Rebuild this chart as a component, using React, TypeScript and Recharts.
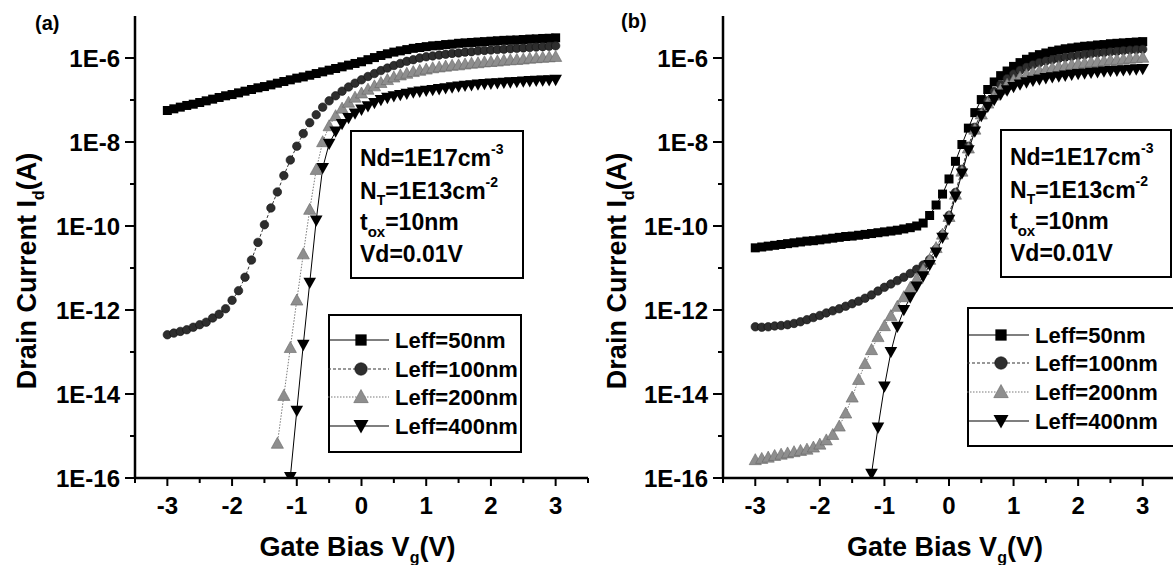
import React from 'react';
import { LineChart, Line, XAxis, YAxis, Legend, Label } from 'recharts';

// Gate bias grid (V)
const VG = [-3.0,-2.9,-2.8,-2.7,-2.6,-2.5,-2.4,-2.3,-2.2,-2.1,-2.0,-1.9,-1.8,-1.7,-1.6,-1.5,-1.4,-1.3,-1.2,-1.1,-1.0,-0.9,-0.8,-0.7,-0.6,-0.5,-0.4,-0.3,-0.2,-0.1,0.0,0.1,0.2,0.3,0.4,0.5,0.6,0.7,0.8,0.9,1.0,1.1,1.2,1.3,1.4,1.5,1.6,1.7,1.8,1.9,2.0,2.1,2.2,2.3,2.4,2.5,2.6,2.7,2.8,2.9,3.0];

// log10(Id [A]); short series end at Vg = 3 V
const A_L50 = [-7.25,-7.21,-7.17,-7.13,-7.10,-7.06,-7.02,-6.98,-6.94,-6.90,-6.87,-6.83,-6.79,-6.75,-6.71,-6.68,-6.64,-6.60,-6.56,-6.52,-6.48,-6.45,-6.41,-6.37,-6.33,-6.29,-6.25,-6.21,-6.17,-6.13,-6.09,-6.04,-5.99,-5.94,-5.90,-5.86,-5.83,-5.80,-5.77,-5.75,-5.73,-5.71,-5.70,-5.68,-5.67,-5.65,-5.64,-5.63,-5.62,-5.61,-5.60,-5.59,-5.58,-5.575,-5.57,-5.56,-5.55,-5.545,-5.535,-5.53,-5.52];
const A_L100 = [-12.59,-12.55,-12.51,-12.47,-12.41,-12.35,-12.29,-12.19,-12.10,-11.97,-11.77,-11.54,-11.22,-10.81,-10.39,-9.97,-9.57,-9.19,-8.80,-8.43,-8.10,-7.80,-7.54,-7.35,-7.17,-7.02,-6.90,-6.79,-6.69,-6.60,-6.52,-6.44,-6.37,-6.30,-6.24,-6.18,-6.13,-6.08,-6.04,-6.00,-5.97,-5.95,-5.93,-5.91,-5.89,-5.88,-5.86,-5.85,-5.83,-5.82,-5.81,-5.80,-5.79,-5.78,-5.77,-5.76,-5.75,-5.74,-5.73,-5.72,-5.71];
const A_L200 = [-15.18,-14.04,-12.90,-11.77,-10.67,-9.61,-8.66,-8.00,-7.62,-7.38,-7.20,-7.06,-6.94,-6.84,-6.75,-6.67,-6.59,-6.52,-6.46,-6.41,-6.37,-6.33,-6.30,-6.27,-6.24,-6.22,-6.20,-6.18,-6.17,-6.15,-6.13,-6.12,-6.10,-6.09,-6.08,-6.06,-6.05,-6.04,-6.03,-6.01,-6.00,-5.99,-5.98,-5.97];
const A_L400 = [-15.98,-14.40,-12.83,-11.35,-9.87,-8.62,-8.04,-7.75,-7.57,-7.43,-7.32,-7.23,-7.15,-7.07,-7.00,-6.95,-6.91,-6.88,-6.85,-6.82,-6.80,-6.78,-6.76,-6.74,-6.72,-6.70,-6.68,-6.66,-6.65,-6.63,-6.62,-6.61,-6.60,-6.59,-6.58,-6.57,-6.56,-6.55,-6.54,-6.535,-6.53,-6.52];

const B_L50 = [-10.52,-10.50,-10.48,-10.46,-10.44,-10.42,-10.40,-10.38,-10.36,-10.35,-10.33,-10.31,-10.29,-10.27,-10.25,-10.24,-10.22,-10.20,-10.18,-10.16,-10.14,-10.12,-10.10,-10.07,-10.04,-10.00,-9.93,-9.75,-9.50,-9.24,-8.88,-8.46,-8.06,-7.67,-7.30,-6.99,-6.75,-6.57,-6.42,-6.31,-6.20,-6.11,-6.03,-5.97,-5.92,-5.88,-5.84,-5.81,-5.78,-5.76,-5.74,-5.72,-5.71,-5.69,-5.68,-5.66,-5.65,-5.64,-5.63,-5.62,-5.61];
const B_L100 = [-12.40,-12.41,-12.40,-12.38,-12.37,-12.35,-12.32,-12.28,-12.23,-12.18,-12.13,-12.07,-12.02,-11.97,-11.91,-11.85,-11.79,-11.72,-11.64,-11.55,-11.46,-11.38,-11.30,-11.22,-11.13,-11.03,-10.93,-10.80,-10.55,-10.20,-9.75,-9.20,-8.65,-8.10,-7.65,-7.30,-7.02,-6.80,-6.63,-6.49,-6.38,-6.29,-6.22,-6.16,-6.11,-6.07,-6.04,-6.01,-5.98,-5.96,-5.94,-5.92,-5.90,-5.88,-5.87,-5.85,-5.84,-5.82,-5.81,-5.80,-5.79];
const B_L200 = [-15.57,-15.54,-15.51,-15.47,-15.44,-15.41,-15.38,-15.35,-15.32,-15.27,-15.20,-15.10,-14.97,-14.77,-14.46,-14.08,-13.66,-13.28,-12.95,-12.64,-12.38,-12.14,-11.92,-11.69,-11.47,-11.26,-11.04,-10.80,-10.52,-10.20,-9.78,-9.25,-8.70,-8.15,-7.70,-7.34,-7.08,-6.89,-6.75,-6.63,-6.53,-6.46,-6.40,-6.35,-6.31,-6.27,-6.24,-6.21,-6.19,-6.16,-6.14,-6.12,-6.10,-6.09,-6.07,-6.05,-6.04,-6.03,-6.01,-6.00,-5.99];
const B_L400 = [-15.90,-14.80,-13.82,-13.00,-12.40,-12.00,-11.70,-11.44,-11.20,-10.93,-10.63,-10.28,-9.85,-9.30,-8.75,-8.20,-7.75,-7.38,-7.16,-7.00,-6.87,-6.77,-6.69,-6.63,-6.58,-6.54,-6.51,-6.48,-6.46,-6.44,-6.42,-6.40,-6.38,-6.37,-6.35,-6.34,-6.32,-6.31,-6.30,-6.29,-6.28,-6.27,-6.26];

const SERIES_NAMES = ['Leff=50nm', 'Leff=100nm', 'Leff=200nm', 'Leff=400nm'];
const Y_TICKS = [1e-16, 1e-15, 1e-14, 1e-13, 1e-12, 1e-11, 1e-10, 1e-9, 1e-8, 1e-7, 1e-6];
const X_TICKS = [-3.5, -3, -2.5, -2, -1.5, -1, -0.5, 0, 0.5, 1, 1.5, 2, 2.5, 3, 3.5];

const FONT = '"Liberation Sans", Arial, Helvetica, sans-serif';

type Shape = 'square' | 'circle' | 'triangle' | 'triangleDown';
const STYLES: { shape: Shape; stroke: string; dash?: string; fill: string; size: number }[] = [
  { shape: 'square', stroke: '#000', fill: '#000', size: 10 },
  { shape: 'circle', stroke: '#333', dash: '3 2', fill: '#2e2e2e', size: 8.5 },
  { shape: 'triangle', stroke: '#7a7a7a', dash: '1.5 1.5', fill: '#8e8e8e', size: 10.5 },
  { shape: 'triangleDown', stroke: '#000', fill: '#000', size: 10.5 },
];

const toData = (logs: number[]) =>
  logs.map((v, i) => ({ x: VG[VG.length - logs.length + i], y: Math.pow(10, v) }));

function marker(shape: Shape, cx: number, cy: number, s: number, fill: string, key?: any) {
  if (shape === 'square')
    return <rect key={key} x={cx - s * 0.45} y={cy - s * 0.45} width={s * 0.9} height={s * 0.9} fill={fill} />;
  if (shape === 'circle')
    return <circle key={key} cx={cx} cy={cy} r={s * 0.5} fill={fill} stroke="#111" strokeWidth={0.6} />;
  if (shape === 'triangle')
    return (
      <polygon key={key} points={`${cx},${cy - s * 0.6} ${cx - s * 0.58},${cy + s * 0.45} ${cx + s * 0.58},${cy + s * 0.45}`}
        fill={fill} stroke="#666" strokeWidth={0.6} />
    );
  return (
    <polygon key={key} points={`${cx - s * 0.6},${cy - s * 0.48} ${cx + s * 0.6},${cy - s * 0.48} ${cx},${cy + s * 0.6}`} fill={fill} />
  );
}

const makeDot = (shape: Shape, fill: string, s: number) => (p: any) => {
  const { cx, cy, index } = p;
  if (cx == null || cy == null) return <g key={`d-${index}`} />;
  return marker(shape, cx, cy, s, fill, `d-${index}`);
};

const YTick = (p: any) => {
  const { x, y, payload } = p;
  const e = Math.round(Math.log10(payload.value));
  const major = e % 2 === 0;
  return (
    <g>
      <line x1={x} x2={x - (major ? 10 : 5)} y1={y} y2={y} stroke="#000" strokeWidth={2} />
      {major && (
        <text x={x - 15} y={y} dy="0.36em" textAnchor="end" fontFamily={FONT} fontWeight="bold" fontSize={24} fill="#000">
          {`1E${e}`}
        </text>
      )}
    </g>
  );
};

const XTick = (p: any) => {
  const { x, y, payload } = p;
  const v = payload.value;
  const major = Math.abs(v - Math.round(v)) < 1e-6;
  return (
    <g>
      <line x1={x} x2={x} y1={y} y2={y + (major ? 8 : 5)} stroke="#000" strokeWidth={2} />
      {major && v >= -3 && v <= 3 && (
        <text x={x} y={y + 36} textAnchor="middle" fontFamily={FONT} fontWeight="bold" fontSize={24} fill="#000">
          {String(v)}
        </text>
      )}
    </g>
  );
};

const XTitle = (p: any) => {
  const vb = p.viewBox || { x: 135, y: 478, width: 453, height: 87 };
  const cx = vb.x + vb.width / 2 - 4;
  const y = vb.y + 78;
  return (
    <text x={cx} y={y} textAnchor="middle" fontFamily={FONT} fontWeight="bold" fontSize={27} fill="#000">
      <tspan>Gate Bias V</tspan>
      <tspan dy={7} fontSize={16}>g</tspan>
      <tspan dy={-7}>(V)</tspan>
    </text>
  );
};

const YTitle = (p: any) => {
  const vb = p.viewBox || { x: 0, y: 16, width: 135, height: 462 };
  const x = vb.x + 36;
  const y = vb.y + vb.height / 2 + 24;
  return (
    <text x={x} y={y} transform={`rotate(-90, ${x}, ${y})`} textAnchor="middle" fontFamily={FONT} fontWeight="bold" fontSize={27} fill="#000">
      <tspan>Drain Current I</tspan>
      <tspan dy={8} fontSize={16}>d</tspan>
      <tspan dy={-8}>(A)</tspan>
    </text>
  );
};

const makeLegend = (rowTops: number[], markerX: number, textX: number, width: number, height: number) => () => (
  <div style={{ position: 'relative', width, height, border: '2px solid #000', boxSizing: 'border-box', background: '#fff' }}>
    <svg width={width} height={height} style={{ position: 'absolute', left: -2, top: -2, overflow: 'visible' }}>
      {SERIES_NAMES.map((name, i) => {
        const st = STYLES[i];
        const cy = rowTops[i];
        return (
          <g key={name}>
            <line x1={0} x2={textX - 6} y1={cy} y2={cy} stroke={st.stroke} strokeWidth={1.2} strokeDasharray={st.dash} />
            {marker(st.shape, markerX, cy, 12.5, st.fill)}
            <text x={textX} y={cy} dy="0.36em" fontFamily={FONT} fontWeight="bold" fontSize={22} fill="#000">{name}</text>
          </g>
        );
      })}
    </svg>
  </div>
);

const InfoBox = ({ left, top, width, height }: { left: number; top: number; width: number; height: number }) => (
  <svg style={{ position: 'absolute', left, top }} width={width} height={height}>
    <rect x={1} y={1} width={width - 2} height={height - 2} fill="#fff" stroke="#000" strokeWidth={2} />
    <g fontFamily={FONT} fontWeight="bold" fontSize={23} fill="#000">
      <text x={10} y={36}>
        <tspan>Nd=1E17cm</tspan>
        <tspan dy={-12} fontSize={14}>-3</tspan>
      </text>
      <text x={10} y={69}>
        <tspan>N</tspan>
        <tspan dy={6} fontSize={14}>T</tspan>
        <tspan dy={-6}>=1E13cm</tspan>
        <tspan dy={-12} fontSize={14}>-2</tspan>
      </text>
      <text x={10} y={100}>
        <tspan>t</tspan>
        <tspan dy={7} fontSize={15}>ox</tspan>
        <tspan dy={-7}>=10nm</tspan>
      </text>
      <text x={10} y={132}>Vd=0.01V</text>
    </g>
  </svg>
);

type PanelProps = {
  logs: number[][];
  yAxisWidth: number;
  marginRight: number;
  legendPos: { left: number; top: number };
  legend: () => React.ReactElement;
};

const Panel = ({ logs, yAxisWidth, marginRight, legendPos, legend }: PanelProps) => (
  <LineChart width={600} height={565} margin={{ top: 16, right: marginRight, left: 0, bottom: 0 }}>
    <XAxis
      type="number" dataKey="x" domain={[-3.5, 3.5]} ticks={X_TICKS} interval={0} allowDataOverflow
      height={87} tickSize={0} tickMargin={0} tick={<XTick />} tickLine={false}
      axisLine={{ stroke: '#000', strokeWidth: 2.5 }}
    >
      <Label content={<XTitle />} />
    </XAxis>
    <YAxis
      type="number" scale="log" domain={[1e-16, 1e-5]} ticks={Y_TICKS} interval={0} allowDataOverflow
      width={yAxisWidth} tickSize={0} tickMargin={0} tick={<YTick />} tickLine={false}
      axisLine={{ stroke: '#000', strokeWidth: 2.5 }}
    >
      <Label content={<YTitle />} />
    </YAxis>
    {logs.map((arr, i) => {
      const st = STYLES[i];
      return (
        <Line
          key={SERIES_NAMES[i]} name={SERIES_NAMES[i]} data={toData(arr)} dataKey="y" type="linear"
          stroke={st.stroke} strokeWidth={1} strokeDasharray={st.dash}
          dot={makeDot(st.shape, st.fill, st.size)} activeDot={false} isAnimationActive={false}
        />
      );
    })}
    <Legend
      layout="vertical" align="center" verticalAlign="middle" content={legend}
      wrapperStyle={{ position: 'absolute', left: legendPos.left, top: legendPos.top, width: 'auto', height: 'auto' }}
    />
  </LineChart>
);

export default function App() {
  return (
    <div style={{ position: 'absolute', left: 0, top: 0, width: 1173, height: 565, overflow: 'hidden', background: '#fff' }}>
      <div style={{ position: 'absolute', left: 0, top: 0 }}>
        <Panel
          logs={[A_L50, A_L100, A_L200, A_L400]} yAxisWidth={135} marginRight={12}
          legendPos={{ left: 328, top: 314 }}
          legend={makeLegend([26, 55, 83, 112], 33, 67, 194, 139)}
        />
      </div>
      <div style={{ position: 'absolute', left: 590, top: 0 }}>
        <Panel
          logs={[B_L50, B_L100, B_L200, B_L400]} yAxisWidth={133} marginRight={15}
          legendPos={{ left: 377, top: 307 }}
          legend={makeLegend([28, 56, 85, 114], 34, 68, 212, 140)}
        />
      </div>
      <InfoBox left={350} top={130} width={174} height={149} />
      <InfoBox left={1000} top={129} width={172} height={149} />
      <div style={{ position: 'absolute', left: 35, top: 12, fontFamily: FONT, fontWeight: 'bold', fontSize: 20 }}>(a)</div>
      <div style={{ position: 'absolute', left: 621, top: 10, fontFamily: FONT, fontWeight: 'bold', fontSize: 20 }}>(b)</div>
    </div>
  );
}
